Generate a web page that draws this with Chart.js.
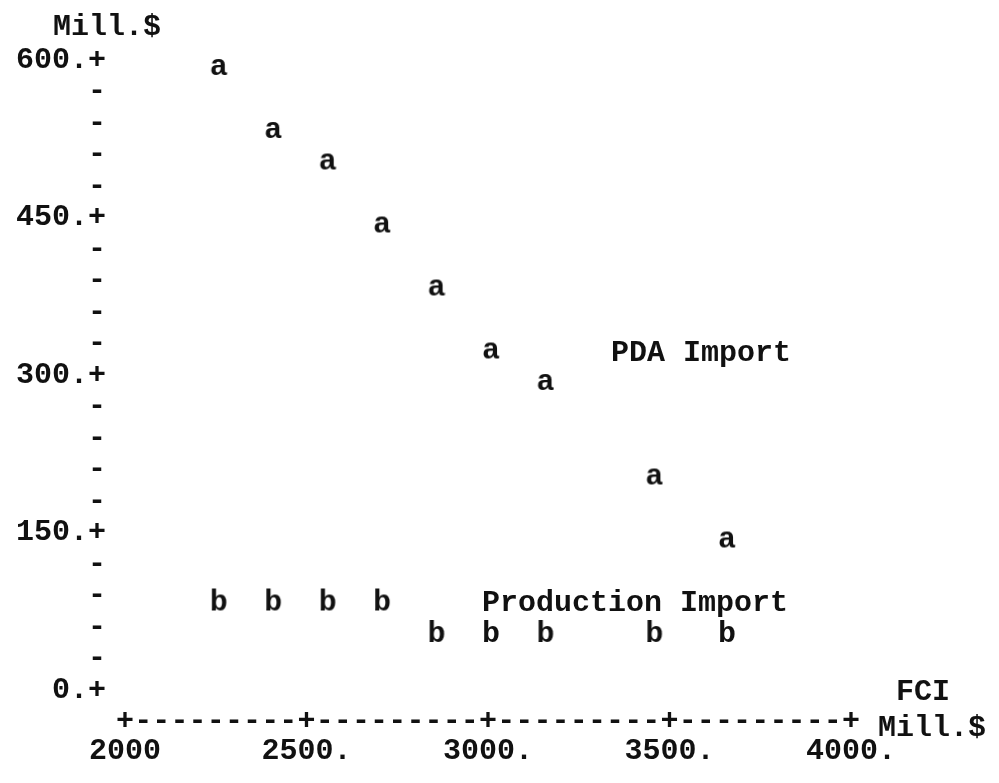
<!DOCTYPE html>
<html>
<head>
<meta charset="utf-8">
<title>FCI vs imports</title>
<script src="https://cdn.jsdelivr.net/npm/chart.js@4.4.1/dist/chart.umd.min.js"></script>
<style>
  html, body { margin: 0; padding: 0; background: #fff; }
</style>
</head>
<body>
<canvas id="plot" width="999" height="783"></canvas>
<script>
// FCI (Mill.$) on x, the two series are printed as letters a / b
const fci = [2250, 2400, 2550, 2700, 2850, 3000, 3150, 3450, 3650];
const pdaImport = [600, 540, 510, 450, 390, 330, 300, 210, 150];
const productionImport = [90, 90, 90, 90, 60, 60, 60, 60, 60];

const xMajor = [2000, 2500, 3000, 3500, 4000];
const xMajorLabels = ['2000', '2500.', '3000.', '3500.', '4000.'];
const yMajor = [0, 150, 300, 450, 600];
const yMajorLabels = ['0.', '150.', '300.', '450.', '600.'];

// where the series names get written (data units)
const pdaNameAt = { x: 3350, y: 330 };
const prodNameAt = { x: 3000, y: 90 };

const MONO = '"Liberation Mono", "DejaVu Sans Mono", monospace';
const INK = '#111';

// small canvas with one letter, used as point style
// (letter sits a bit low / right of the cell centre, like the printout)
function glyph(ch) {
  const c = document.createElement('canvas');
  c.width = 24; c.height = 48;
  const g = c.getContext('2d');
  g.font = 'bold 30px ' + MONO;
  g.fillStyle = INK;
  g.textAlign = 'center';
  g.textBaseline = 'middle';
  g.fillText(ch, 15, 31);
  return c;
}

const printedText = {
  id: 'printedText',
  afterDraw(chart) {
    const { ctx, chartArea } = chart;
    const x = chart.scales.x, y = chart.scales.y;
    ctx.save();
    ctx.font = 'bold 30px ' + MONO;
    ctx.fillStyle = INK;
    ctx.textBaseline = 'middle';
    ctx.textAlign = 'left';
    const half = ctx.measureText('M').width / 2;
    ctx.fillText('PDA Import', x.getPixelForValue(pdaNameAt.x) - half + 5, y.getPixelForValue(pdaNameAt.y) + 10);
    ctx.fillText('Production Import', x.getPixelForValue(prodNameAt.x) - half + 3, y.getPixelForValue(prodNameAt.y) + 8);
    // axis captions
    ctx.fillText('Mill.$', chartArea.left - 72, chartArea.top - 33);
    ctx.fillText('Mill.$', chartArea.right + 27, chartArea.bottom + 38);
    ctx.textAlign = 'center';
    ctx.fillText('FCI', chartArea.right + 72, chartArea.bottom + 2);
    ctx.restore();
  }
};

const tickFont = { family: MONO, size: 30, weight: 'bold', lineHeight: 1 };

new Chart(document.getElementById('plot'), {
  type: 'scatter',
  data: {
    datasets: [{
      label: 'PDA Import',
      data: fci.map((v, i) => ({ x: v, y: pdaImport[i] })),
      pointStyle: glyph('a'),
      pointRadius: 6,
      clip: false
    }, {
      label: 'Production Import',
      data: fci.map((v, i) => ({ x: v, y: productionImport[i] })),
      pointStyle: glyph('b'),
      pointRadius: 6,
      clip: false
    }]
  },
  options: {
    responsive: false,
    animation: false,
    events: [],
    layout: { padding: { left: 0, top: 60, right: 148, bottom: 0 } },
    plugins: {
      legend: { display: false },
      tooltip: { enabled: false }
    },
    scales: {
      x: {
        type: 'linear',
        min: 2000,
        max: 4000,
        grid: { display: false, drawTicks: false },
        border: { display: false },
        afterFit(s) { s.height = 93; },
        ticks: {
          stepSize: 50,
          autoSkip: false,
          maxRotation: 0,
          padding: 16,
          color: INK,
          font: tickFont,
          callback(v) {
            const k = xMajor.indexOf(v);
            return k >= 0 ? ['+', xMajorLabels[k]] : '-';
          }
        }
      },
      y: {
        type: 'linear',
        min: 0,
        max: 600,
        grid: { display: false, drawTicks: false },
        border: { display: false },
        afterFit(s) { s.width = 125; },
        ticks: {
          stepSize: 30,
          autoSkip: false,
          padding: 19,
          color: INK,
          font: tickFont,
          callback(v) {
            const k = yMajor.indexOf(v);
            return k >= 0 ? yMajorLabels[k] + '+' : '-';
          }
        }
      }
    }
  },
  plugins: [printedText]
});
</script>
</body>
</html>
